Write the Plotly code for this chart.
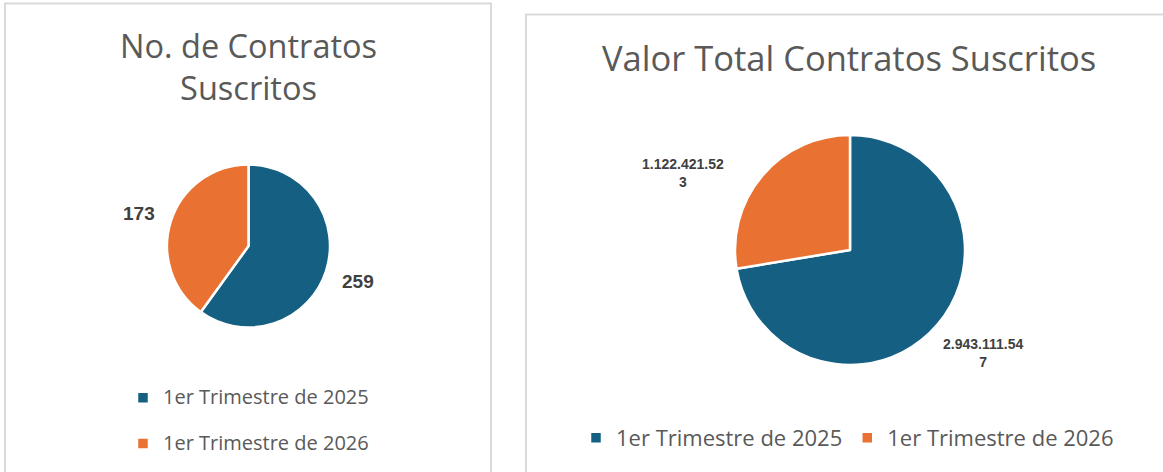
import math
import plotly.graph_objects as go

# ---------------- data ----------------
categories = ["1er Trimestre de 2025", "1er Trimestre de 2026"]
contratos = [259, 173]
valores = [2943111547, 1122421523]
colors = ["#156082", "#E97132"]
titulo_izq = "No. de Contratos<br>Suscritos"
titulo_der = "Valor Total Contratos Suscritos"

W, H = 1163, 472
TXT = "#595959"
LBL = "#404040"
FONT = "Open Sans"


def fx(x):
    return x / W


def fy(y):
    return 1 - y / H


def fmt(v):
    return f"{v:,}".replace(",", ".")


def wrap(s, n=12):
    return s if len(s) <= n else s[:n] + "<br>" + s[n:]


def mid_angles(vals):
    tot = sum(vals)
    cum = 0
    out = []
    for v in vals:
        frac = (cum + v / 2) / tot
        out.append(math.radians(90 - frac * 360))
        cum += v
    return out


fig = go.Figure()

# left pie
Lc, Lr = (248.5, 246.0), 81.5
fig.add_trace(go.Pie(
    labels=[" <br><span style='font-size:20px'>" + c + "</span>" for c in categories],
    values=contratos, sort=False,
    direction="clockwise", rotation=0, textinfo="none",
    hovertemplate="%{value}<extra></extra>",
    marker=dict(colors=colors, line=dict(color="white", width=2.5)),
    domain=dict(x=[fx(Lc[0] - Lr), fx(Lc[0] + Lr)], y=[fy(Lc[1] + Lr), fy(Lc[1] - Lr)]),
    legend="legend",
))

# right pie
Rc, Rr = (850.0, 250.0), 115.0
fig.add_trace(go.Pie(
    labels=categories, values=valores, sort=False,
    direction="clockwise", rotation=0, textinfo="none",
    hovertemplate="%{label}: %{value}<extra></extra>",
    marker=dict(colors=colors, line=dict(color="white", width=2.5)),
    domain=dict(x=[fx(Rc[0] - Rr), fx(Rc[0] + Rr)], y=[fy(Rc[1] + Rr), fy(Rc[1] - Rr)]),
    legend="legend2",
))

annotations = []
# titles
annotations.append(dict(text=titulo_izq, x=fx(248), y=fy(67), xref="paper", yref="paper",
                        xanchor="center", yanchor="middle",
                        showarrow=False, font=dict(family=FONT, size=32.5, color=TXT)))
annotations.append(dict(text=titulo_der, x=fx(849), y=fy(57), xref="paper", yref="paper",
                        xanchor="center", yanchor="middle",
                        showarrow=False, font=dict(family=FONT, size=34.5, color=TXT)))

# data labels (positioned from slice mid-angles)
left_shift = [(0, 0), (0, -3)]
for v, a, (sx, sy) in zip(contratos, mid_angles(contratos), left_shift):
    R = Lr * 1.41
    annotations.append(dict(text=f"<b>{fmt(v)}</b>", x=fx(Lc[0] + R * math.cos(a)),
                            y=fy(Lc[1] - R * math.sin(a)), xref="paper", yref="paper",
                            xanchor="center", yanchor="middle",
                            xshift=sx, yshift=sy, showarrow=False,
                            font=dict(family="Liberation Sans", size=19, color=LBL)))
right_shift = [(3, 7), (-37, -33)]
for v, a, (sx, sy) in zip(valores, mid_angles(valores), right_shift):
    R = Rr * 1.48
    annotations.append(dict(text=f"<b>{wrap(fmt(v))}</b>", x=fx(Rc[0] + R * math.cos(a)),
                            y=fy(Rc[1] - R * math.sin(a)), xref="paper", yref="paper",
                            xanchor="center", yanchor="middle",
                            xshift=sx, yshift=sy, showarrow=False,
                            font=dict(family="Liberation Sans", size=14, color=LBL)))

shapes = [
    dict(type="rect", xref="paper", yref="paper", x0=fx(5), x1=fx(491), y0=fy(490), y1=fy(3.5),
         line=dict(color="#d9d9d9", width=2), fillcolor="rgba(0,0,0,0)", layer="below"),
    dict(type="rect", xref="paper", yref="paper", x0=fx(526), x1=fx(1190), y0=fy(490), y1=fy(14.5),
         line=dict(color="#d9d9d9", width=2), fillcolor="rgba(0,0,0,0)", layer="below"),
]

fig.update_layout(
    width=W, height=H, margin=dict(l=0, r=0, t=0, b=0),
    paper_bgcolor="white", plot_bgcolor="white",
    annotations=annotations, shapes=shapes,
    legend=dict(x=fx(123), y=fy(359), xanchor="left", yanchor="top", orientation="v",
                valign="bottom", font=dict(family=FONT, size=16.5, color=TXT),
                bgcolor="rgba(0,0,0,0)"),
    legend2=dict(x=fx(576), y=fy(438), xanchor="left", yanchor="middle", orientation="h",
                 font=dict(family=FONT, size=22, color=TXT), bgcolor="rgba(0,0,0,0)"),
)

fig.write_html("out.html")
